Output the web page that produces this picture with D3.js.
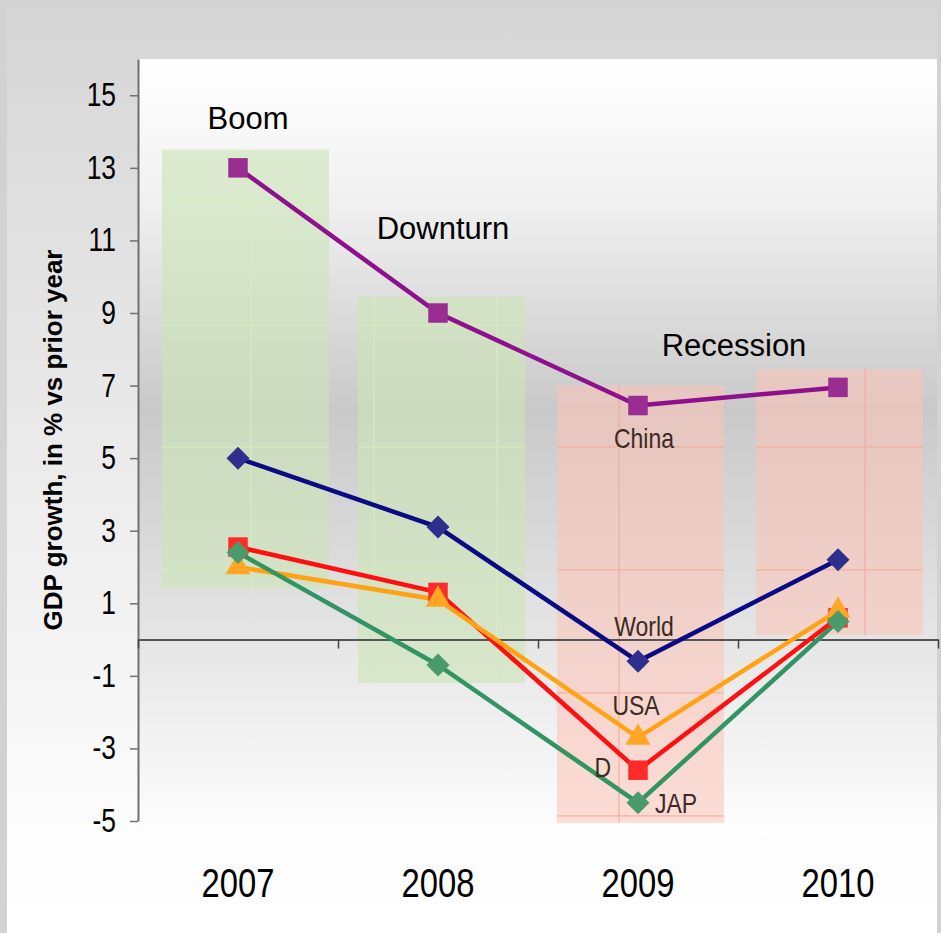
<!DOCTYPE html>
<html>
<head>
<meta charset="utf-8">
<script src="https://cdn.jsdelivr.net/npm/d3@7"></script>
<style>
  body { margin: 0; background: #d2d2d2; }
  svg { display: block; }
  .narrow { font-family: "Liberation Sans", Arial, sans-serif; }
</style>
</head>
<body>
<div id="chart"></div>
<script>
var years = ["2007", "2008", "2009", "2010"];
var china = [13.0, 9.0, 6.45, 6.95];
var world = [5.0, 3.1, -0.6, 2.2];
var usa = [2.0, 1.1, -2.7, 0.8];
var germany = [2.55, 1.3, -3.6, 0.6];
var japan = [2.4, -0.7, -4.5, 0.5];
var seriesNames = ["China", "World", "USA", "D", "JAP"];
var yTicks = [-5, -3, -1, 1, 3, 5, 7, 9, 11, 13, 15];

// shaded phase boxes behind the lines (low / high in % growth)
var boxLow = [1.4, -1.2, -5.05, 0.12];
var boxHigh = [13.5, 9.45, 7.0, 7.45];
var boxKind = ["boom", "boom", "recession", "recession"];

// phase headings
var phaseLabels = ["Boom", "Downturn", "Recession"];
var phaseYear = ["2007", "2008", "2009"];
var phaseValue = [14.07, 11.04, 7.81];

var svgWidth = 941;
var svgHeight = 933;

var svg = d3.select("#chart")
  .append("svg")
  .attr("width", svgWidth)
  .attr("height", svgHeight);

var defs = svg.append("defs");

// squeeze text horizontally to get the condensed look
function condense(sel, k) {
  sel.each(function() {
    var l = this.getComputedTextLength();
    d3.select(this).attr("textLength", l * k).attr("lengthAdjust", "spacingAndGlyphs");
  });
}

// background gradients
var panelGrad = defs.append("linearGradient")
  .attr("id", "panelGrad").attr("x1", 0).attr("x2", 0).attr("y1", 0).attr("y2", 1);
panelGrad.append("stop").attr("offset", "0%").attr("stop-color", "#d6d6d6");
panelGrad.append("stop").attr("offset", "88%").attr("stop-color", "#fcfcfc");
panelGrad.append("stop").attr("offset", "100%").attr("stop-color", "#ffffff");

var plotGrad = defs.append("linearGradient")
  .attr("id", "plotGrad").attr("x1", 0).attr("x2", 0).attr("y1", 0).attr("y2", 1);
plotGrad.append("stop").attr("offset", "0%").attr("stop-color", "#ffffff");
plotGrad.append("stop").attr("offset", "18%").attr("stop-color", "#f1f1f1");
plotGrad.append("stop").attr("offset", "45%").attr("stop-color", "#c9c9c9");
plotGrad.append("stop").attr("offset", "76%").attr("stop-color", "#e7e7e7");
plotGrad.append("stop").attr("offset", "100%").attr("stop-color", "#fefefe");

// fine checker texture for the phase boxes
function checker(id, a, b) {
  var p = defs.append("pattern")
    .attr("id", id).attr("width", 2).attr("height", 2)
    .attr("patternUnits", "userSpaceOnUse");
  p.append("rect").attr("width", 2).attr("height", 2).attr("fill", a);
  p.append("rect").attr("width", 1).attr("height", 1).attr("fill", b);
  p.append("rect").attr("x", 1).attr("y", 1).attr("width", 1).attr("height", 1).attr("fill", b);
}
checker("boomFill", "rgba(200,226,178,0.52)", "rgba(214,234,196,0.46)");
checker("recFill", "rgba(250,190,176,0.46)", "rgba(252,206,196,0.40)");

svg.append("rect")
  .attr("x", 7).attr("y", 7).attr("width", 930).attr("height", 926)
  .attr("fill", "url(#panelGrad)");

var x = d3.scaleBand().domain(years).range([138, 938]);
var xPos = d3.scaleLinear().domain([-0.5, 3.5]).range([138, 938]);
var y = d3.scaleLinear().domain([-5, 16]).range([821, 59]);
var bw = x.bandwidth();
var cx = function(i) { return x(years[i]) + bw / 2; };

svg.append("rect")
  .attr("x", 138).attr("y", y(16)).attr("width", 799).attr("height", 838 - y(16))
  .attr("fill", "url(#plotGrad)");

// phase boxes with the faint grid showing through
var gridX = [0.065, 0.68, 1.295, 1.905, 2.52, 3.135];
var gridY = [12.06, 8.67, 5.31, 1.92, -1.47, -4.86];
var boxShift = [0.12, 0.1, 0.095, 0.09];

years.forEach(function(yr, i) {
  var bx = x(yr) + bw * boxShift[i], bwid = bw * 0.835;
  var by = y(boxHigh[i]), bh = y(boxLow[i]) - y(boxHigh[i]);
  var boom = boxKind[i] === "boom";
  defs.append("clipPath").attr("id", "clip" + i)
    .append("rect").attr("x", bx).attr("y", by).attr("width", bwid).attr("height", bh);
  svg.append("rect")
    .attr("x", bx).attr("y", by).attr("width", bwid).attr("height", bh)
    .attr("fill", boom ? "url(#boomFill)" : "url(#recFill)");
  var g = svg.append("g").attr("clip-path", "url(#clip" + i + ")")
    .attr("stroke", boom ? "#d4f0bc" : "#f4a896")
    .attr("stroke-width", 1);
  g.selectAll(".gx").data(gridX).enter().append("line")
    .attr("x1", d => xPos(d)).attr("x2", d => xPos(d))
    .attr("y1", by).attr("y2", by + bh);
  g.selectAll(".gy").data(gridY).enter().append("line")
    .attr("x1", bx).attr("x2", bx + bwid)
    .attr("y1", d => y(d)).attr("y2", d => y(d));
});

// axes
var leftAxis = d3.axisLeft(y).tickValues(yTicks).tickSize(8).tickSizeOuter(0).tickPadding(14)
  .tickFormat(d => String(d));
var yAxisG = svg.append("g")
  .attr("transform", "translate(138,0)")
  .call(leftAxis);
yAxisG.select(".domain").attr("stroke", "#707070").attr("stroke-width", 2);
yAxisG.selectAll(".tick line").attr("stroke", "#707070").attr("stroke-width", 1.5);
yAxisG.selectAll(".tick text")
  .attr("class", "narrow")
  .attr("font-size", 33)
  .attr("fill", "#000")
  .call(condense, 0.8);

var zeroAxis = d3.axisBottom(xPos).tickValues([-0.5, 0.5, 1.5, 2.5, 3.5])
  .tickFormat("").tickSize(9).tickSizeOuter(0);
var zeroG = svg.append("g")
  .attr("transform", "translate(0," + y(0) + ")")
  .call(zeroAxis);
zeroG.select(".domain").attr("stroke", "#555").attr("stroke-width", 2);
zeroG.selectAll(".tick line").attr("stroke", "#444").attr("stroke-width", 1.5);

var yearAxis = d3.axisBottom(x).tickSize(0).tickPadding(0);
var yearG = svg.append("g")
  .attr("transform", "translate(0,868)")
  .call(yearAxis);
yearG.select(".domain").remove();
yearG.selectAll(".tick text")
  .attr("class", "narrow")
  .attr("font-size", 41)
  .attr("fill", "#000")
  .call(condense, 0.8);

svg.append("text")
  .attr("transform", "translate(62,440) rotate(-90)")
  .attr("text-anchor", "middle")
  .attr("font-family", "Liberation Sans, Arial, sans-serif")
  .attr("font-weight", "bold")
  .attr("font-size", 26)
  .text("GDP growth, in % vs prior year");

// phase headings
phaseLabels.forEach(function(t, i) {
  var px = [0.55, 0.525, 0.98][i];
  svg.append("text")
    .attr("x", x(phaseYear[i]) + bw * px)
    .attr("y", y(phaseValue[i]))
    .attr("text-anchor", "middle")
    .attr("font-family", "Liberation Sans, Arial, sans-serif")
    .attr("font-size", 31)
    .attr("fill", "#000")
    .text(t);
});

// series
var series = [
  { name: "China", values: china, line: "#8e108e", fill: "#9a2d92", shape: "square" },
  { name: "World", values: world, line: "#0a0a84", fill: "#2e2e8c", shape: "diamond" },
  { name: "D", values: germany, line: "#ff1010", fill: "#ff2a2a", shape: "square" },
  { name: "USA", values: usa, line: "#ffa214", fill: "#ffa624", shape: "triangle" },
  { name: "JAP", values: japan, line: "#319462", fill: "#4a9a6a", shape: "diamond" }
];

var line = d3.line()
  .x((d, i) => cx(i))
  .y(d => y(d));

var symbols = {
  square: d3.symbol().type(d3.symbolSquare).size(380),
  diamond: d3.symbol().type(d3.symbolSquare).size(265),
  triangle: d3.symbol().type(d3.symbolTriangle).size(270)
};

series.forEach(function(s) {
  svg.append("path")
    .datum(s.values)
    .attr("d", line)
    .attr("fill", "none")
    .attr("stroke", s.line)
    .attr("stroke-width", 4.5);
});

series.forEach(function(s) {
  svg.selectAll(null)
    .data(s.values)
    .enter()
    .append("path")
    .attr("d", symbols[s.shape])
    .attr("transform", (d, i) => "translate(" + cx(i) + "," + y(d) + ")" + (s.shape === "diamond" ? " rotate(45)" : ""))
    .attr("fill", s.fill);
});

// series labels beside the 2009 points
var labelOffset = {
  China: [6, 42, "middle"],
  World: [6, -25, "middle"],
  USA: [-2, -23, "middle"],
  D: [-27, 7, "end"],
  JAP: [17, 10, "start"]
};
series.forEach(function(s) {
  var o = labelOffset[s.name];
  svg.append("text")
    .attr("class", "narrow")
    .attr("x", cx(2) + o[0])
    .attr("y", y(s.values[2]) + o[1])
    .attr("text-anchor", o[2])
    .attr("font-size", 28)
    .attr("fill", "#3b2a25")
    .text(s.name)
    .call(condense, 0.82);
});
</script>
</body>
</html>
